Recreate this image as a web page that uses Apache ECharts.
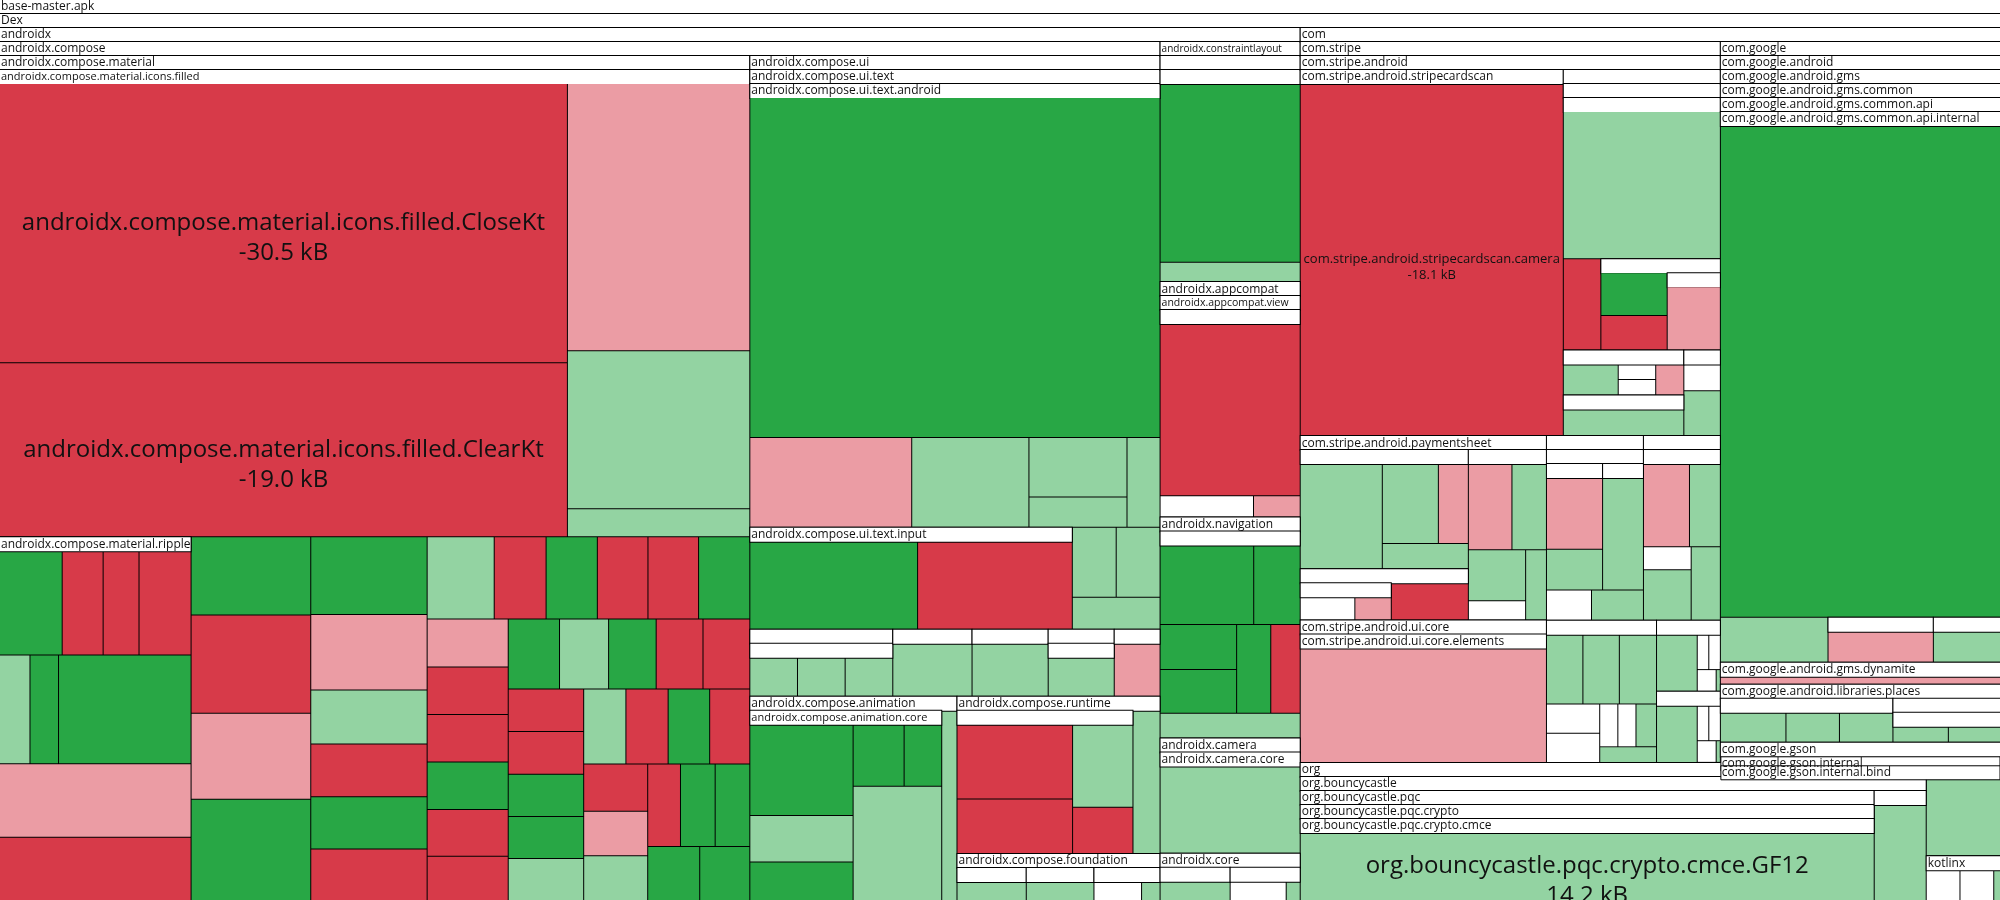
<!DOCTYPE html>
<html>
<head>
<meta charset="utf-8">
<script src="https://cdn.jsdelivr.net/npm/echarts@6/dist/echarts.min.js"></script>
<style>
html,body{margin:0;padding:0;background:#fff;overflow:hidden;}
#chart{width:2000px;height:900px;}
</style>
</head>
<body>
<div id="chart"></div>
<script>
// ---------- DATA (sizes in kB) ----------
// leaf entry: [name, size, kind]  kind: R removed, r shrunk, G added, g grown, w tiny
// package entry: [name, size|null, children]

const iconsFilled = [
  ['androidx.compose.material.icons.filled.CloseKt', 30.5, 'R'],
  ['androidx.compose.material.icons.filled.ClearKt', 19.0, 'R'],
  ['', 9.38, 'r'], ['', 5.54, 'g'], ['', 0.98, 'g']
];
const ripple = [
  ['', 1.24, 'G'], ['', 0.81, 'R'], ['', 0.71, 'R'],
  ['', 1.03, 'R'], ['', 0.63, 'g'], ['', 0.59, 'G'],
  ['', 2.74, 'G'], ['', 2.67, 'r'], ['', 2.30, 'R']
];
const material = [
  ['androidx.compose.material.icons.filled', 67.4, iconsFilled],
  ['androidx.compose.material.ripple', 13.4, ripple],
  ['', 1.80, 'G'], ['', 2.26, 'R'], ['', 1.98, 'r'], ['', 2.33, 'G'],
  ['', 1.74, 'G'], ['', 1.69, 'r'], ['', 1.21, 'g'], ['', 1.18, 'R'], ['', 1.17, 'G'], ['', 1.15, 'R'],
  ['', 1.06, 'g'], ['', 0.82, 'R'], ['', 0.81, 'G'], ['', 0.80, 'R'], ['', 0.80, 'R'], ['', 0.81, 'G'], ['', 0.75, 'r'],
  ['', 0.74, 'R'], ['', 0.74, 'R'], ['', 0.74, 'G'], ['', 0.73, 'R'], ['', 0.69, 'R'], ['', 0.69, 'G'],
  ['', 0.66, 'g'], ['', 0.64, 'G'], ['', 0.63, 'R'], ['', 0.63, 'R'], ['', 0.62, 'R'],
  ['', 0.62, 'R'], ['', 0.61, 'G'], ['', 0.61, 'G'], ['', 0.61, 'g'], ['', 0.61, 'g'],
  ['', 0.61, 'R'], ['', 0.60, 'G'], ['', 0.58, 'R'], ['', 0.58, 'R'],
  ['', 0.55, 'r'], ['', 0.55, 'g'], ['', 0.52, 'R'], ['', 0.55, 'G'], ['', 0.55, 'G'], ['', 0.54, 'G'], ['', 0.52, 'G']
];
const uiTextAndroid = [['', 26.8, 'G'], ['', 2.79, 'r'], ['', 2.02, 'g'], ['', 1.12, 'g'], ['', 0.57, 'g'], ['', 0.57, 'g']];
const uiTextInput = [['', 2.83, 'G'], ['', 2.61, 'R']];
const uiText = [
  ['androidx.compose.ui.text.android', 34.93, uiTextAndroid],
  ['androidx.compose.ui.text.input', 6.32, uiTextInput],
  ['', 0.59, 'g'], ['', 0.59, 'g'], ['', 0.54, 'g']
];
const composeUi = [
  ['androidx.compose.ui.text', 44.08, uiText],
  ['', 1.84, [['', null, [['', 0.36, 'g'], ['', 0.36, 'g'], ['', 0.36, 'g']]]]],
  ['', 1.02, [['', 0.8, 'g']]],
  ['', 0.98, [['', 0.77, 'g']]],
  ['', 0.85, [['', null, [['', 0.5, 'g']]]]],
  ['', 0.59, [['', 0.47, 'r']]]
];
const animationCore = [['', 1.82, 'G'], ['', 0.93, 'g'], ['', 0.77, 'G'], ['', 0.61, 'G'], ['', 0.45, 'G'], ['', 1.96, 'g']];
const animation = [['androidx.compose.animation.core', 7.04, animationCore], ['', 0.56, 'g']];
const runtimeInner = [['', 1.67, 'R'], ['', 1.22, 'R'], ['', 0.97, 'g'], ['', 0.54, 'R']];
const runtime = [['', 4.87, runtimeInner], ['', 0.75, 'g']];
const foundation = [
  ['', 0.44, [['', 0.25, 'g']]],
  ['', 0.43, [['', 0.25, 'g']]],
  ['', 0.42, [['', 0.18, 'w'], ['', 0.07, 'g']]]
];
const compose = [
  ['androidx.compose.material', 121.7, material],
  ['androidx.compose.ui', 50.46, composeUi],
  ['androidx.compose.animation', 8.12, animation],
  ['androidx.compose.runtime', 6.13, runtime],
  ['androidx.compose.foundation', 1.83, foundation]
];
const constraintLayout = [['', null, [['', null, [['', 4.8, 'G'], ['', 0.52, 'g']]]]]];
const appcompat = [['androidx.appcompat.view', null, [['', null, [['', 4.63, 'R'], ['', 0.38, 'w'], ['', 0.19, 'r']]]]]];
const navigation = [
  ['', 4.9, [['', 1.43, 'G'], ['', 0.71, 'G'], ['', 0.66, 'G'], ['', 0.64, 'G'], ['', 0.58, 'G'], ['', 0.50, 'R']]],
  ['', 0.67, 'g']
];
const camera = [['androidx.camera.core', null, [['', 2.33, 'g']]]];
const core = [['', 0.44, [['', 0.25, 'g']]], ['', 0.44, [['', 0.2, 'w'], ['', 0.05, 'g']]]];
const androidx = [
  ['androidx.compose', 191.4, compose],
  ['androidx.constraintlayout', 6.46, constraintLayout],
  ['androidx.appcompat', 6.33, appcompat],
  ['androidx.navigation', 5.95, navigation],
  ['androidx.camera', 3.10, camera],
  ['androidx.core', 1.27, core]
];

const stripeCardScan = [['com.stripe.android.stripecardscan.camera', 18.1, 'R']];
const stripeMisc = [
  ['', 4.44, 'g'], ['', 0.66, 'R'],
  ['', 2.1, [['', 0.56, 'G'], ['', 0.45, 'R'], ['', 0.81, [['', 0.52, 'r']]]]],
  ['', 1.04, [['', 0.41, 'g'], ['', 0.14, 'w'], ['', 0.14, 'w'], ['', 0.21, 'r']]],
  ['', 0.94, [['', 0.68, 'g']]],
  ['', 0.6, [['', 0.16, 'w'], ['', 0.27, 'g']]]
];
const paymentSheet = [
  ['', 3.84, [['', 1.66, 'g'], ['', 0.86, 'g'], ['', 0.46, 'r'], ['', 0.42, 'g']]],
  ['', 1.65, [['', 0.65, [['', 0.24, 'w'], ['', 0.16, 'r']]], ['', 0.55, 'R']]],
  ['', 2.55, [['', 0.72, 'r'], ['', 0.57, 'g'], ['', 0.56, 'g'], ['', 0.21, 'w'], ['', 0.28, 'g']]]
];
const stripeP = [
  ['', 1.36, [['', 0.77, 'r'], ['', 0.44, 'g']]],
  ['', 0.99, [['', 0.88, 'g']]],
  ['', 0.26, 'w'], ['', 0.3, 'g']
];
const stripeQ = [['', 0.73, 'r'], ['', 0.49, 'g'], ['', 0.21, 'w'], ['', 0.46, 'g'], ['', 0.41, 'g']];
const stripeR1 = [['', 0.49, 'g'], ['', 0.49, 'g'], ['', 0.5, 'g'], ['', 0.3, 'w'], ['', 0.3, 'w'], ['', 0.15, 'w'], ['', 0.15, 'w'], ['', 0.17, 'g'], ['', 0.17, 'g']];
const stripeR2 = [['', 0.51, 'g'], ['', 0.09, 'w'], ['', 0.09, 'w'], ['', 0.09, 'w'], ['', 0.02, 'g']];
const stripeR3 = [['', 0.51, 'g'], ['', 0.09, 'w'], ['', 0.09, 'w'], ['', 0.09, 'w'], ['', 0.02, 'g']];
const stripeAndroid = [
  ['com.stripe.android.stripecardscan', 18.46, stripeCardScan],
  ['', 11.02, [['', null, [['', null, stripeMisc]]]]],
  ['com.stripe.android.paymentsheet', 8.7, paymentSheet],
  ['com.stripe.android.ui.core', 6.72, [['com.stripe.android.ui.core.elements', null, [['', 5.4, 'r']]]]],
  ['', 3.43, [['', null, stripeP]]],
  ['', 2.72, [['', null, stripeQ]]],
  ['', 3.0, stripeR1],
  ['', 0.87, stripeR2],
  ['', 0.87, stripeR3]
];
const gmsInternal = [['', 26.44, 'G'], ['', 0.93, 'g'], ['', 0.91, [['', 0.63, 'r']]], ['', 0.58, [['', 0.4, 'g']]]];
const gms = [
  ['com.google.android.gms.common', 31.12, [['com.google.android.gms.common.api', null, [['com.google.android.gms.common.api.internal', null, gmsInternal]]]]],
  ['com.google.android.gms.dynamite', 1.18, [['', 0.43, 'r']]]
];
const places = [
  ['', 1.46, [['', 0.38, 'g'], ['', 0.31, 'g'], ['', 0.31, 'g']]],
  ['', 0.91, [['', null, [['', 0.17, 'g'], ['', 0.16, 'g']]]]]
];
const googleAndroid = [
  ['com.google.android.gms', 33.06, gms],
  ['com.google.android.libraries.places', 3.12, places]
];
// gson's nested packages are too small to get their own box; their names overflow below it
const gsonNested = ['com.google.gson.internal', 'com.google.gson.internal.bind'];
const google = [
  ['com.google.android', 36.94, googleAndroid],
  ['com.google.gson', 1.08, [['', 0.2, 'w']]]
];
const comPkg = [
  ['com.stripe', 58.15, [['com.stripe.android', null, stripeAndroid]]],
  ['com.google', 38.77, google]
];
const bouncyCastle = [
  ['org.bouncycastle.pqc', 12.14, [['org.bouncycastle.pqc.crypto', null, [['org.bouncycastle.pqc.crypto.cmce', null, [['org.bouncycastle.pqc.crypto.cmce.GF12', 14.2, 'g']]]]]]],
  ['', 1.1, [['', 0.96, 'g']]]
];
const orgPkg = [['org.bouncycastle', null, bouncyCastle]];
const kotlinx = [['', 0.2, 'w'], ['', 0.2, 'w'], ['', 0.04, 'g']];
const dex = [
  ['androidx', 218.0, androidx],
  ['com', 98.8, comPkg],
  ['org', 16.6, orgPkg],
  ['', 1.33, 'g'],
  ['kotlinx', 0.64, kotlinx]
];
const apk = ['base-master.apk', null, [['Dex', null, dex]]];

// ---------- STYLE ----------
const KIND_COLOR = {R: '#d73a49', r: '#eb9ca4', G: '#28a745', g: '#93d3a2', w: '#ffffff'};
const FONT = "'Open Sans', 'Noto Sans', sans-serif";
const HEADER_H = 14;
const HEADER_FONT_SIZE = {
  'androidx.compose.material.icons.filled': 11,
  'androidx.constraintlayout': 10,
  'androidx.appcompat.view': 10.5,
  'androidx.compose.animation.core': 11
};
const LEAF_LABEL_SIZE = {
  'androidx.compose.material.icons.filled.CloseKt': 24,
  'androidx.compose.material.icons.filled.ClearKt': 24,
  'com.stripe.android.stripecardscan.camera': 13,
  'org.bouncycastle.pqc.crypto.cmce.GF12': 24
};

function build(entry) {
  const [name, value, rest] = entry;
  const node = {name: name};
  if (value != null) node.value = value;
  if (Array.isArray(rest)) {
    node.children = rest.map(build);
    if (HEADER_FONT_SIZE[name]) node.upperLabel = {fontSize: HEADER_FONT_SIZE[name]};
  } else {
    node.kind = rest;
    node.itemStyle = {color: KIND_COLOR[rest]};
    const fs = LEAF_LABEL_SIZE[name];
    if (fs) {
      const lh = Math.round(fs * 1.25);
      node.label = {show: true, position: 'inside', align: 'center', verticalAlign: 'top',
        fontSize: fs, lineHeight: lh, offset: [0, -lh / 2]};
    }
  }
  return node;
}

const chart = echarts.init(document.getElementById('chart'), null, {renderer: 'canvas'});
chart.setOption({
  animation: false,
  series: [{
    type: 'treemap',
    left: 0, top: 0, width: 2000, height: 900,
    roam: false,
    nodeClick: false,
    sort: false,
    visibleMin: 0,
    drillDownIcon: '',
    breadcrumb: {show: false},
    emphasis: {disabled: true},
    itemStyle: {borderWidth: 0, gapWidth: 1, borderColor: '#000'},
    upperLabel: {
      show: true, height: HEADER_H, color: '#111', fontFamily: FONT, fontSize: 12, lineHeight: 13,
      padding: [0, 0, 0, 1], backgroundColor: '#fff', borderColor: '#000', borderWidth: 1,
      overflow: 'none', position: [0, '50%'], verticalAlign: 'middle', formatter: '{b}'
    },
    label: {
      show: false, color: '#111', fontFamily: FONT, padding: 0, overflow: 'none',
      formatter: function (p) {
        const k = p.data && p.data.kind;
        const sign = (k === 'R' || k === 'r') ? '-' : '';
        return p.name + '\n' + sign + Number(p.value).toFixed(1) + ' kB';
      }
    },
    levels: [
      {itemStyle: {borderWidth: 0, gapWidth: 0, borderColor: '#000'}, upperLabel: {show: false}}
    ],
    data: [build(apk)]
  }]
});

// Overflowing headers of gson's nested packages, placed from the layout ECharts computed.
try {
  const tree = chart.getModel().getSeriesByIndex(0).getData().tree;
  let gson = null;
  tree.root.eachNode(function (n) { if (n.name === 'com.google.gson') gson = n; });
  if (gson) {
    let ax = 0, ay = 0;
    for (let n = gson; n; n = n.parentNode) {
      const l = n.getLayout();
      if (l) { ax += l.x || 0; ay += l.y || 0; }
    }
    const w = gson.getLayout().width;
    const offsets = [HEADER_H, HEADER_H + 9];
    const elements = [];
    gsonNested.forEach(function (name, i) {
      elements.push({
        type: 'rect', z: 100,
        shape: {x: ax, y: ay + offsets[i], width: w, height: HEADER_H},
        style: {fill: '#fff', stroke: '#000', lineWidth: 1}
      });
      elements.push({
        type: 'text', z: 101,
        x: ax + 1, y: ay + offsets[i] + HEADER_H / 2,
        style: {text: name, fill: '#111', font: '12px ' + FONT, verticalAlign: 'middle', align: 'left'}
      });
    });
    chart.setOption({graphic: {elements: elements}});
  }
} catch (e) { console.error(e); }
</script>
</body>
</html>
